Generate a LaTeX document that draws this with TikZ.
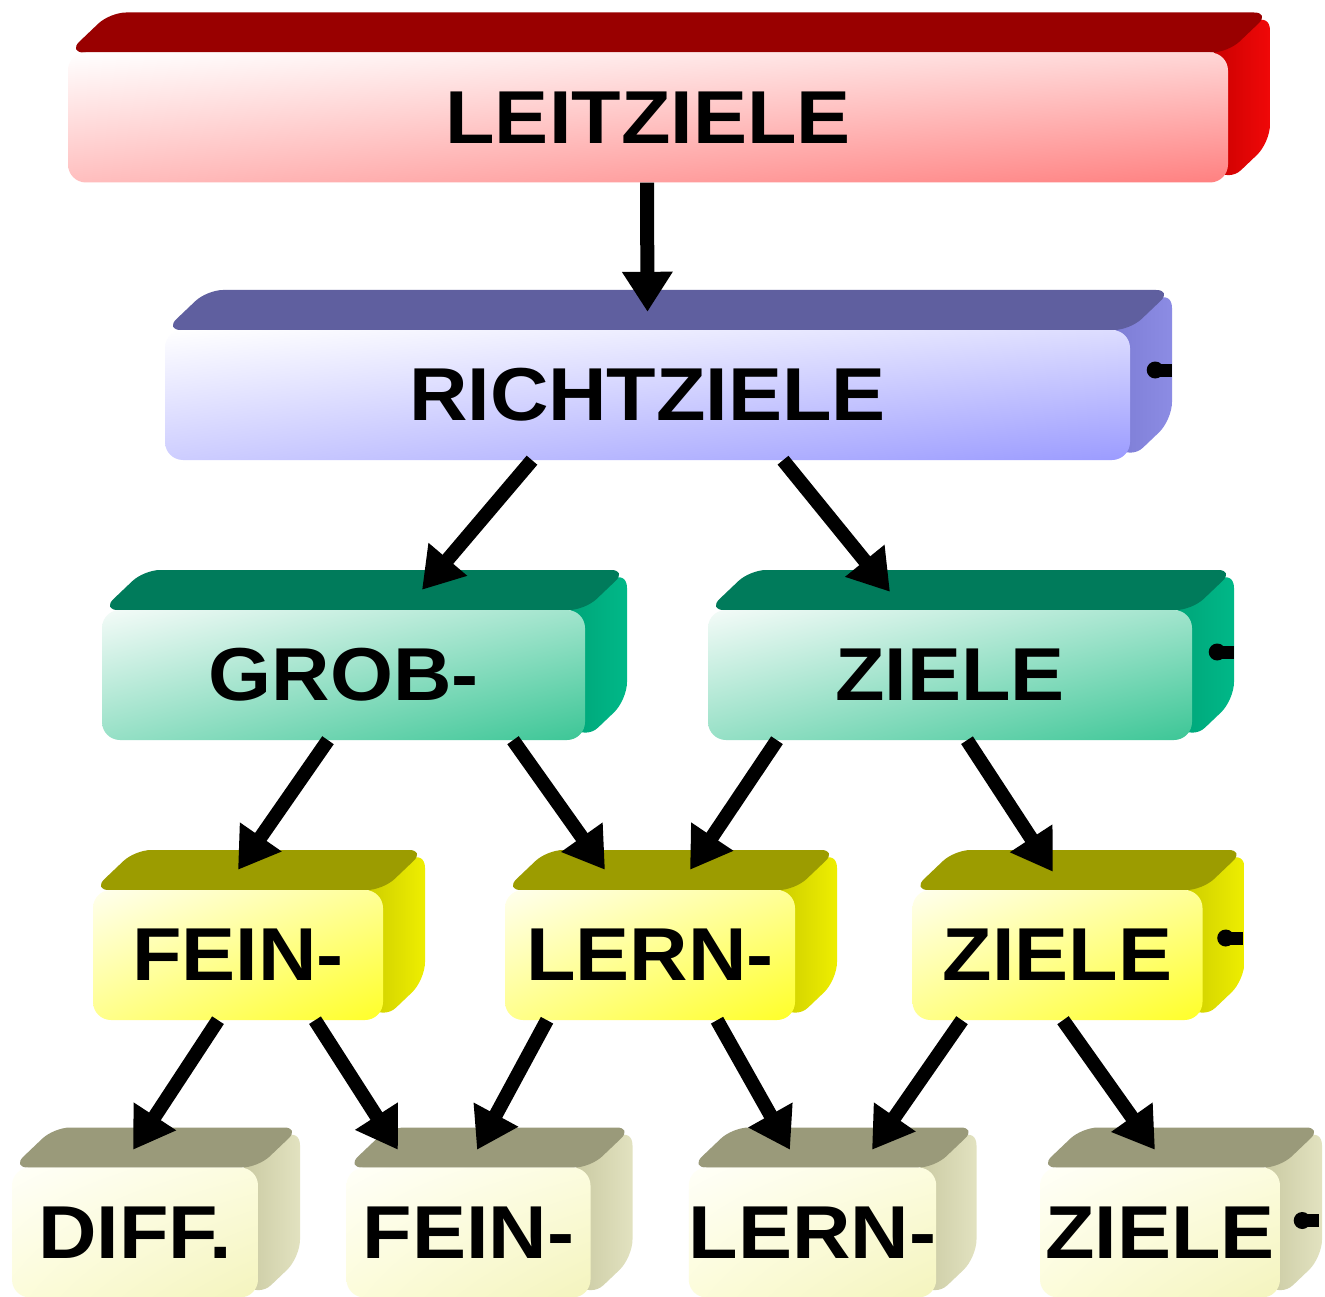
\documentclass[tikz,border=0pt]{standalone}
\usepackage{fontspec}
\newfontfamily\labfont{Liberation Sans}[FakeStretch=1.08]
\usetikzlibrary{arrows.meta,calc,shadings}

\definecolor{topred}{HTML}{990000}
\definecolor{sideredA}{HTML}{C80000}
\definecolor{sideredB}{HTML}{F00808}
\definecolor{topblue}{HTML}{5F5F9F}
\definecolor{sideblueA}{HTML}{7C7CD4}
\definecolor{sideblueB}{HTML}{8C8CE4}
\definecolor{topgreen}{HTML}{007B5B}
\definecolor{sidegreenA}{HTML}{00A478}
\definecolor{sidegreenB}{HTML}{00B888}
\definecolor{topyellow}{HTML}{9C9C00}
\definecolor{sideyellowA}{HTML}{CCCC00}
\definecolor{sideyellowB}{HTML}{EEEE00}
\definecolor{topkhaki}{HTML}{9A9A7A}
\definecolor{sidekhakiA}{HTML}{C8C8A0}
\definecolor{sidekhakiB}{HTML}{E2E2C0}

\tikzset{
  x=1pt, y=-1pt,
  face/.style={rounded corners=18pt, minimum height=130pt, inner sep=0pt,
    font=\labfont\bfseries\fontsize{75}{80}\selectfont, text=black},
  front red/.style={upper left=white, upper right={rgb,255:red,255;green,214;blue,214},
    lower left={rgb,255:red,255;green,190;blue,190}, lower right={rgb,255:red,255;green,128;blue,128}},
  front blue/.style={upper left=white, upper right={rgb,255:red,220;green,220;blue,255},
    lower left={rgb,255:red,205;green,205;blue,255}, lower right={rgb,255:red,155;green,155;blue,255}},
  front green/.style={upper left={rgb,255:red,244;green,251;blue,248}, upper right={rgb,255:red,160;green,228;blue,204},
    lower left={rgb,255:red,150;green,224;blue,198}, lower right={rgb,255:red,60;green,198;blue,150}},
  front yellow/.style={upper left={rgb,255:red,255;green,255;blue,238}, upper right={rgb,255:red,255;green,255;blue,150},
    lower left={rgb,255:red,255;green,255;blue,140}, lower right={rgb,255:red,255;green,255;blue,40}},
  front khaki/.style={upper left={rgb,255:red,255;green,255;blue,248}, upper right={rgb,255:red,252;green,252;blue,222},
    lower left={rgb,255:red,252;green,252;blue,218}, lower right={rgb,255:red,244;green,244;blue,190}},
  top red/.style={fill=topred, rounded corners=16pt},
  top blue/.style={fill=topblue, rounded corners=16pt},
  top green/.style={fill=topgreen, rounded corners=16pt},
  top yellow/.style={fill=topyellow, rounded corners=16pt},
  top khaki/.style={fill=topkhaki, rounded corners=16pt},
  side red/.style={left color=sideredA, right color=sideredB, rounded corners=18pt},
  side blue/.style={left color=sideblueA, right color=sideblueB, rounded corners=18pt},
  side green/.style={left color=sidegreenA, right color=sidegreenB, rounded corners=18pt},
  side yellow/.style={left color=sideyellowA, right color=sideyellowB, rounded corners=18pt},
  side khaki/.style={left color=sidekhakiA, right color=sidekhakiB, rounded corners=18pt},
  arr/.style={line width=14pt, -{Triangle[length=40pt,width=48pt]}},
  stub/.style={fill=black}
}

% #1 name, #2 cx, #3 cy, #4 width, #5 colour scheme, #6 text
\newcommand\cubebox[6]{%
  \path[side #5] ({#2+#4/2-20},{#3-65}) -- ({#2+#4/2+42},{#3-105}) -- ({#2+#4/2+42},{#3+25})
     -- ({#2+#4/2},{#3+65}) -- ({#2+#4/2-20},{#3+45}) -- cycle;
  \path[top #5] ({#2-#4/2},{#3-65}) -- ++(42,-40) -- ++(#4,0) -- ++(-42,40) -- cycle;
  \node[face, front #5, minimum width=#4pt] (#1) at (#2,#3) {#6};
}

\newcommand\taildot[2]{%
  \fill[stub] ($(#1.east)+(#2)$) circle (8.5pt);
  \fill[stub] ($(#1.east)+(#2)+(0,-6.5)$) rectangle ++(17,13);
}

\begin{document}
\begin{tikzpicture}
\useasboundingbox[fill=white] (0,0) rectangle (1325,1297);

\cubebox{leit}{648}{117.5}{1160}{red}{LEITZIELE}
\cubebox{rich}{647.5}{395}{965}{blue}{RICHTZIELE}
\cubebox{grob}{343.5}{675}{483}{green}{GROB-}
\cubebox{zithree}{950}{675}{484}{green}{ZIELE}
\cubebox{feinfour}{238}{955}{290}{yellow}{FEIN-}
\cubebox{lernfour}{650}{955}{290}{yellow}{LERN-}
\cubebox{zifour}{1057.5}{955}{290}{yellow}{ZIELE}
\cubebox{diff}{135}{1232.5}{246}{khaki}{DIFF.}
\cubebox{feinfive}{468.5}{1232.5}{244}{khaki}{FEIN-}
\cubebox{lernfive}{812.5}{1232.5}{244}{khaki}{LERN-}
\cubebox{zifive}{1160}{1232.5}{240}{khaki}{ZIELE}

\taildot{rich}{25,-25}
\taildot{zithree}{25,-23}
\taildot{zifour}{23,-17}
\taildot{zifive}{22,-12}

\draw[arr] ($(leit.south)+(-1,0)$) -- ($(rich.north)+(0,-18)$);
\draw[arr] ($(rich.south)+(-115.5,0)$) -- ($(grob.north)+(78.5,-20)$);
\draw[arr] ($(rich.south)+(135.5,0)$) -- ($(zithree.north)+(-60,-18)$);
\draw[arr] ($(grob.south)+(-15.5,0)$) -- ($(feinfour.north)+(0,-20)$);
\draw[arr] ($(grob.south)+(169.5,0)$) -- ($(lernfour.north)+(-45,-20)$);
\draw[arr] ($(zithree.south)+(-173,0)$) -- ($(lernfour.north)+(40,-20)$);
\draw[arr] ($(zithree.south)+(17,0)$) -- ($(zifour.north)+(-4.5,-18)$);
\draw[arr] ($(feinfour.south)+(-20,0)$) -- ($(diff.north)+(-2,-17.5)$);
\draw[arr] ($(feinfour.south)+(77,0)$) -- ($(feinfive.north)+(-70.5,-17.5)$);
\draw[arr] ($(lernfour.south)+(-103,0)$) -- ($(feinfive.north)+(8.5,-17.5)$);
\draw[arr] ($(lernfour.south)+(67,0)$) -- ($(lernfive.north)+(-22.5,-17.5)$);
\draw[arr] ($(zifour.south)+(-95.5,0)$) -- ($(lernfive.north)+(59.5,-17.5)$);
\draw[arr] ($(zifour.south)+(5.5,0)$) -- ($(zifive.north)+(-5,-17.5)$);
\end{tikzpicture}
\end{document}
